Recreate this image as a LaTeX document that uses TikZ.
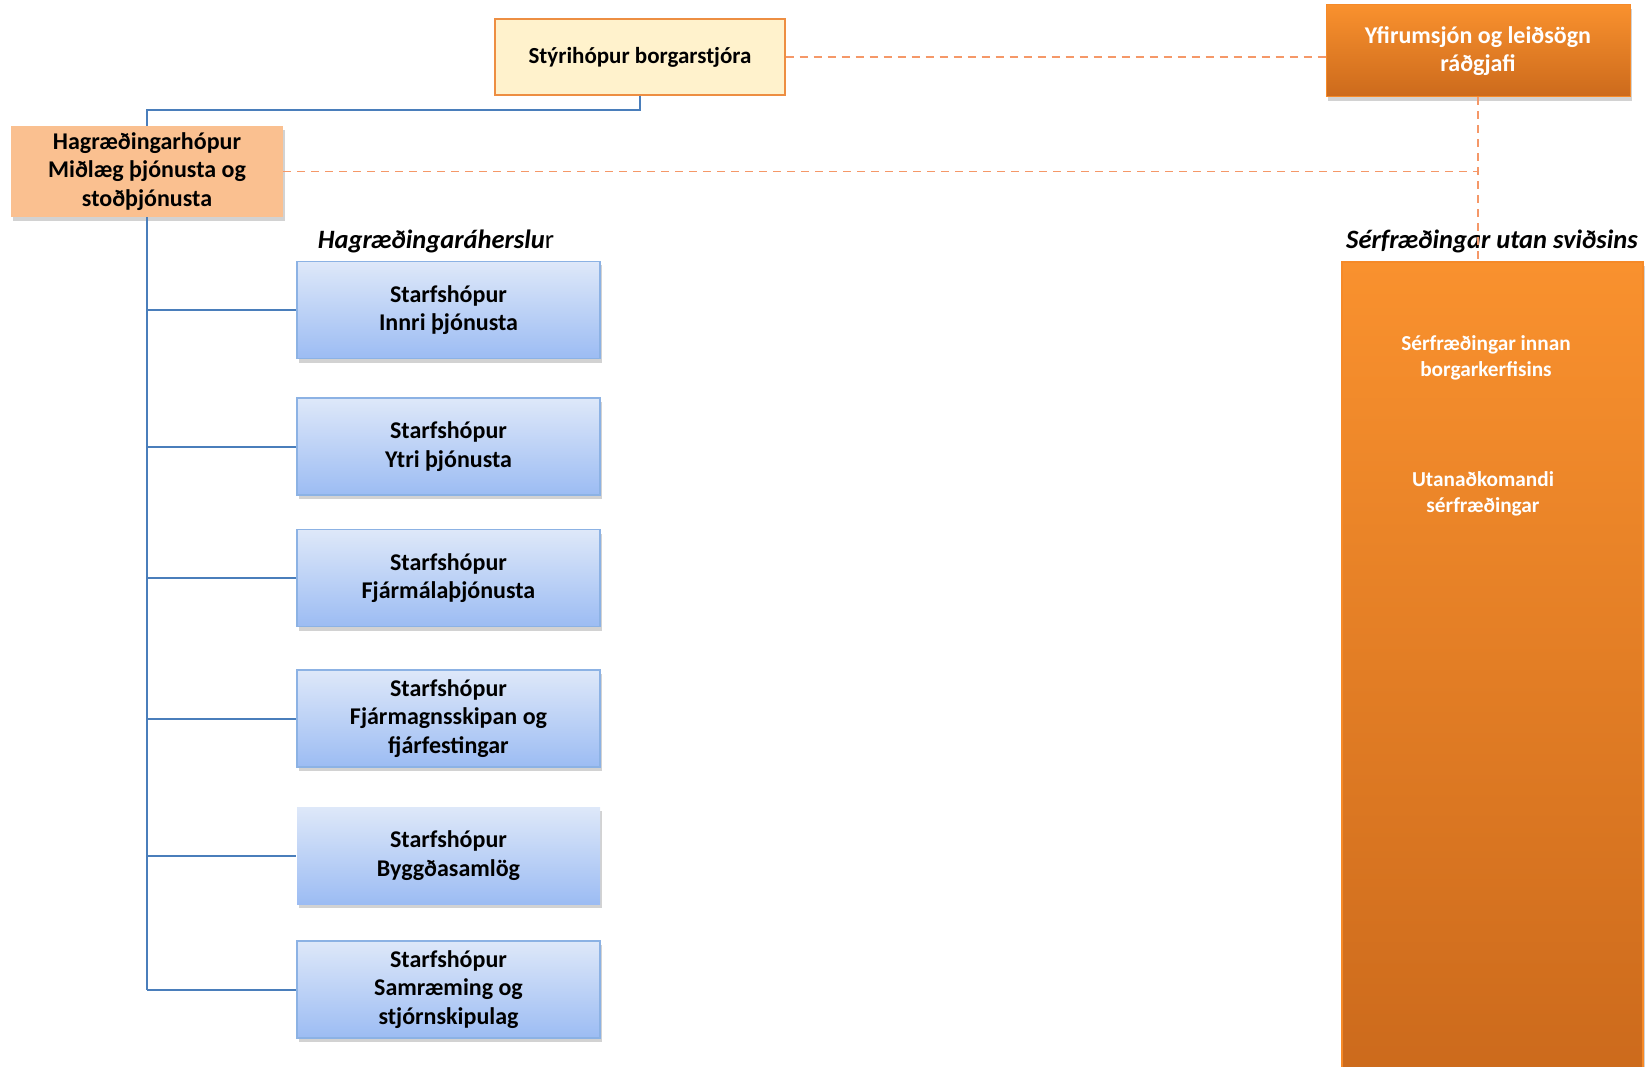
\documentclass[tikz,border=0pt]{standalone}
\usepackage{fontspec}
\setmainfont{Carlito}
\usetikzlibrary{shadows}
\definecolor{bluetop}{RGB}{222,232,249}
\definecolor{bluebot}{RGB}{156,188,243}
\definecolor{bluebord}{RGB}{140,178,228}
\definecolor{linkblue}{RGB}{74,126,187}
\definecolor{dashor}{RGB}{245,152,104}
\definecolor{styrfill}{RGB}{255,242,204}
\definecolor{styrbord}{RGB}{237,142,66}
\definecolor{peach}{RGB}{250,192,144}
\definecolor{ortop}{RGB}{249,145,46}
\definecolor{orbot}{RGB}{204,106,28}
\definecolor{orbord}{RGB}{246,138,40}
\tikzset{
  softshadow/.style={drop shadow={shadow xshift=1.5pt,shadow yshift=-4pt,opacity=0.25,fill=black!70}},
  bluebox/.style={draw=bluebord,line width=1.2pt,top color=bluetop,bottom color=bluebot,
    minimum width=303pt,minimum height=97pt,inner sep=0pt,align=center,
    font=\bfseries\fontsize{24}{28.5}\selectfont,softshadow},
  bluelink/.style={draw=linkblue,line width=2pt},
  dashlink/.style={draw=dashor,line width=1.8pt,dash pattern=on 8pt off 6pt},
  headlabel/.style={font=\bfseries\itshape\fontsize{26.5}{30}\selectfont,inner sep=0pt},
  whitetext/.style={text=white,font=\bfseries\fontsize{21.3}{25.5}\selectfont,align=center,inner sep=0pt}
}
\begin{document}
\begin{tikzpicture}[x=1pt,y=-1pt]
\useasboundingbox (0,0) rectangle (1651,1067);
% top nodes
\node[draw=styrbord,line width=1.2pt,fill=styrfill,minimum width=290pt,minimum height=76pt,inner sep=0pt,
  font=\bfseries\fontsize{23}{28.5}\selectfont] (styr) at (640,57) {Stýrihópur borgarstjóra};
\node[draw=orbord,line width=1pt,top color=ortop,bottom color=orbot,minimum width=304pt,minimum height=92pt,
  inner sep=0pt,align=center,text=white,font=\bfseries\fontsize{24}{28.5}\selectfont,softshadow] (yfir) at (1478,51)
  {Yfirumsjón og leiðsögn\\ráðgjafi};
\node[fill=peach,minimum width=272pt,minimum height=91pt,inner sep=0pt,align=center,
  font=\bfseries\fontsize{24}{28.5}\selectfont,softshadow] (hagr) at (147,171.5)
  {Hagræðingarhópur\\Miðlæg þjónusta og\\stoðþjónusta};
% big orange column
\node[draw=orbord,line width=1.5pt,top color=ortop,bottom color=orbot,minimum width=301pt,minimum height=815pt,
  inner sep=0pt,softshadow] (big) at (1492.5,669.5) {};
\node[whitetext] (inn) at (1486,358) {Sérfræðingar innan\\borgarkerfisins};
\node[whitetext] (utan) at (1483,494) {Utanaðkomandi\\sérfræðingar};
% labels
\node[headlabel] (lbl1) at (436,241) {Hagræðingaráherslu\textup{\mdseries r}};
\node[headlabel] (lbl2) at (1492,241) {Sérfræðingar utan sviðsins};
% blue boxes
\node[bluebox] (b1) at (448.5,310) {Starfshópur\\Innri þjónusta};
\node[bluebox] (b2) at (448.5,446.5) {Starfshópur\\Ytri þjónusta};
\node[bluebox] (b3) at (448.5,578) {Starfshópur\\Fjármálaþjónusta};
\node[bluebox] (b4) at (448.5,718.5) {Starfshópur\\Fjármagnsskipan og\\fjárfestingar};
\node[bluebox,draw=none] (b5) at (448.5,855.5) {Starfshópur\\Byggðasamlög};
\node[bluebox] (b6) at (448.5,989.5) {Starfshópur\\Samræming og\\stjórnskipulag};
% dashed connectors
\draw[dashlink] (styr.east) -- (yfir.west |- styr.east);
\draw[dashlink] (hagr.east) -- (yfir.south |- hagr.east);
\draw[dashlink] (yfir.south) -- (yfir.south |- big.north);
% blue connectors
\coordinate (topy) at (147,110);
\draw[bluelink] (styr.south) -- (styr.south |- topy) -- (topy) -- (hagr.north);
\draw[bluelink] (hagr.south) -- (hagr.south |- b6.west);
\foreach \b in {b1,b2,b3,b4,b5,b6}{
  \draw[bluelink] (hagr.south |- \b.west) -- (\b.west);
}
\end{tikzpicture}
\end{document}
